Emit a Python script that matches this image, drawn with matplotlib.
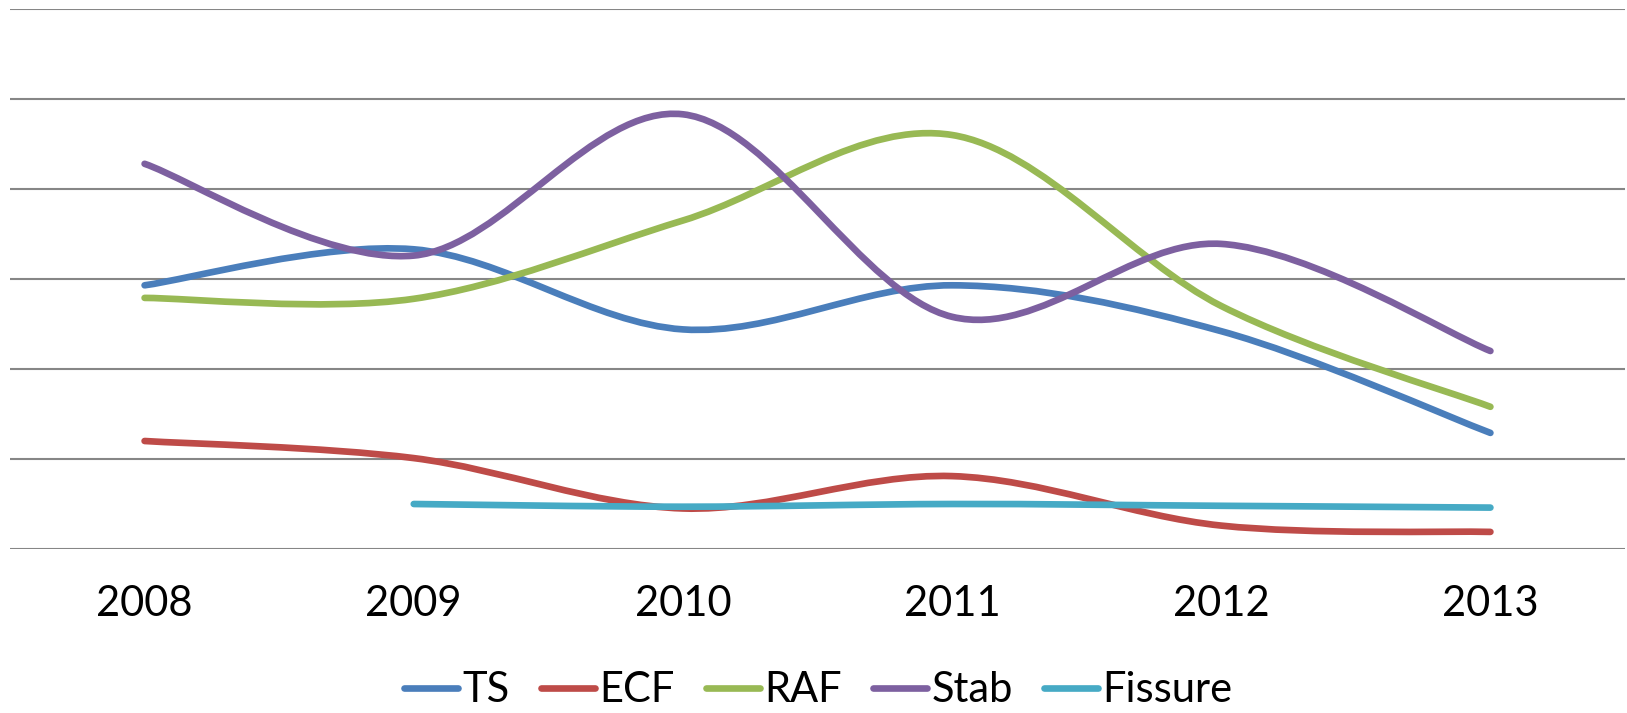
import matplotlib.pyplot as plt
from matplotlib.path import Path
from matplotlib.patches import PathPatch
from matplotlib.lines import Line2D

plt.rcParams['font.family'] = ['Lato', 'DejaVu Sans']

years = ['2008', '2009', '2010', '2011', '2012', '2013']
ts = [29.3, 33.3, 24.4, 29.3, 24.2, 12.9]
ecf = [12.0, 10.1, 4.5, 8.1, 2.6, 1.9]
raf = [27.9, 27.8, 36.5, 46.0, 27.0, 15.8]
stab = [42.8, 32.6, 48.3, 25.8, 33.9, 22.0]
fissure = [5.0, 4.7, 5.0, 4.8, 4.6]
fissure_x = [1, 2, 3, 4, 5]

series = [
    ('TS', list(range(6)), ts, '#4A7EBB'),
    ('ECF', list(range(6)), ecf, '#BE4B48'),
    ('RAF', list(range(6)), raf, '#98B954'),
    ('Stab', list(range(6)), stab, '#7D60A0'),
    ('Fissure', fissure_x, fissure, '#46AAC5'),
]


def smooth_path(xs, ys):
    # excel-like smoothed line: cubic bezier, catmull-rom control points
    pts = list(zip(xs, ys))
    n = len(pts)
    verts = [pts[0]]
    codes = [Path.MOVETO]
    for i in range(n - 1):
        p0 = pts[max(i - 1, 0)]
        p1 = pts[i]
        p2 = pts[i + 1]
        p3 = pts[min(i + 2, n - 1)]
        c1 = (p1[0] + (p2[0] - p0[0]) / 6, p1[1] + (p2[1] - p0[1]) / 6)
        c2 = (p2[0] - (p3[0] - p1[0]) / 6, p2[1] - (p3[1] - p1[1]) / 6)
        verts += [c1, c2, p2]
        codes += [Path.CURVE4] * 3
    return Path(verts, codes)


fig = plt.figure(figsize=(16.27, 7.13), dpi=100)
ax = fig.add_axes([10 / 1627, 164 / 713, 1615 / 1627, 540 / 713])

handles = []
for name, xs, ys, color in series:
    patch = PathPatch(smooth_path(xs, ys), fill=False, edgecolor=color,
                      linewidth=4.8, capstyle='round', joinstyle='round', zorder=3)
    ax.add_patch(patch)
    handles.append(Line2D([0], [0], color=color, linewidth=4.8,
                          solid_capstyle='round', label=name))

ax.set_xlim(-0.5, 5.5)
ax.set_ylim(0, 60)
ax.set_yticks(range(0, 61, 10))
ax.set_xticks(range(6))
ax.set_xticklabels(years, fontsize=30)
ax.tick_params(axis='x', length=0, pad=26)
ax.tick_params(axis='y', length=0, labelleft=False)
ax.grid(axis='y', color='#868686', linewidth=1.5)
ax.set_axisbelow(True)
for s in ax.spines.values():
    s.set_visible(False)

fig.legend(handles=handles, loc='center', bbox_to_anchor=(0.503, 0.032),
           ncol=5, frameon=False, fontsize=30, handlelength=1.3,
           handletextpad=0.1, columnspacing=0.75)

fig.savefig('out.png', dpi=100)
